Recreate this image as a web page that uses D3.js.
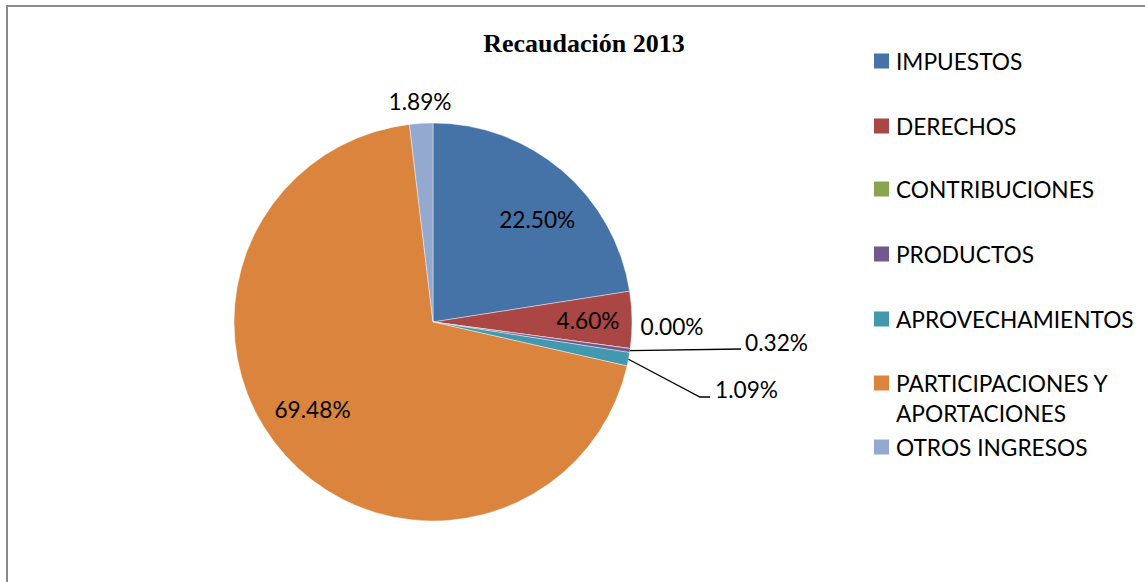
<!DOCTYPE html>
<html>
<head>
<meta charset="utf-8">
<script src="https://cdn.jsdelivr.net/npm/d3@7"></script>
<style>
  html, body { margin: 0; padding: 0; background: #fff; }
  svg { display: block; }
  text { font-family: Lato, "Open Sans", sans-serif; fill: #000; }
</style>
</head>
<body>
<div id="chart"></div>
<script>
'use strict';

// data
var categories = ['IMPUESTOS', 'DERECHOS', 'CONTRIBUCIONES', 'PRODUCTOS',
  'APROVECHAMIENTOS', 'PARTICIPACIONES Y APORTACIONES', 'OTROS INGRESOS'];
var values = [22.50, 4.60, 0.00, 0.32, 1.09, 69.48, 1.89];
var labels = ['22.50%', '4.60%', '0.00%', '0.32%', '1.09%', '69.48%', '1.89%'];
var legendLines = [['IMPUESTOS'], ['DERECHOS'], ['CONTRIBUCIONES'], ['PRODUCTOS'],
  ['APROVECHAMIENTOS'], ['PARTICIPACIONES Y', 'APORTACIONES'], ['OTROS INGRESOS']];
var colors = ['#4572A7', '#AA4643', '#89A54E', '#71588F', '#4198AF', '#DB843D', '#93A9CF'];

var width = 1145, height = 582;
var cx = 433, cy = 322, radius = 199;
var fontSize = '22.7px';

var svg = d3.select('#chart').append('svg')
  .attr('width', width)
  .attr('height', height);

// chart area outline (only top + left are inside the picture)
svg.append('path')
  .attr('d', 'M7,' + height + ' L7,6 L' + width + ',6')
  .attr('fill', 'none')
  .attr('stroke', '#8a8a8a')
  .attr('stroke-width', 2);

svg.append('text')
  .attr('x', 584)
  .attr('y', 52)
  .attr('text-anchor', 'middle')
  .style('font-family', '"Liberation Serif", "Times New Roman", serif')
  .style('font-weight', 'bold')
  .style('font-size', '26px')
  .text('Recaudación 2013');

var color = d3.scaleOrdinal().domain(categories).range(colors);

var pie = d3.pie().sort(null).value(function(d) { return d.value; });
var data = categories.map(function(c, i) { return { name: c, value: values[i], label: labels[i] }; });
var arcs = pie(data);

var arc = d3.arc().innerRadius(0).outerRadius(radius);

var g = svg.append('g').attr('transform', 'translate(' + cx + ',' + cy + ')');

g.selectAll('path.slice')
  .data(arcs)
  .enter().append('path')
  .attr('class', 'slice')
  .attr('d', arc)
  .attr('fill', function(d) { return color(d.data.name); })
  .attr('stroke', '#ffffff')
  .attr('stroke-opacity', 0.6)
  .attr('stroke-width', 0.7);

function midAngle(d) { return (d.startAngle + d.endAngle) / 2; }
function polar(a, r) { return [Math.sin(a) * r, -Math.cos(a) * r]; }

// inside labels: radius + angle nudge (degrees)
var inside = { 0: [146, 5], 1: [155, 0], 5: [149, 6] };
// leader line ends, relative to the centre
var leaders = { 3: [[308, 27]], 4: [[267, 75], [277, 75]] };

arcs.forEach(function(d, i) {
  var a = midAngle(d);
  var p, anchor = 'middle';
  if (leaders[i]) {
    var pts = [polar(a, radius)].concat(leaders[i]);
    g.append('path')
      .attr('d', d3.line()(pts))
      .attr('fill', 'none')
      .attr('stroke', '#000')
      .attr('stroke-width', 1.3);
    var end = pts[pts.length - 1];
    p = i === 3 ? [end[0] + 4, end[1] - 7] : [end[0] + 5, end[1] - 8];
    anchor = 'start';
  } else if (inside[i]) {
    p = polar(a + inside[i][1] * Math.PI / 180, inside[i][0]);
  } else if (i === 2) {
    p = [239, 4];
  } else {
    p = [-13, -221];
  }
  g.append('text')
    .attr('x', p[0])
    .attr('y', p[1])
    .attr('text-anchor', anchor)
    .attr('dominant-baseline', 'central')
    .style('font-size', fontSize)
    .text(d.data.label);
});

// legend
var legend = svg.append('g').attr('transform', 'translate(874,0)');
var rowY = [61, 126, 189, 254, 319, 383, 447];

legendLines.forEach(function(lines, i) {
  var row = legend.append('g').attr('transform', 'translate(0,' + rowY[i] + ')');
  row.append('rect')
    .attr('x', 0)
    .attr('y', -7.5)
    .attr('width', 15)
    .attr('height', 15)
    .attr('fill', colors[i]);
  lines.forEach(function(t, j) {
    row.append('text')
      .attr('x', 22)
      .attr('y', j * 30)
      .attr('dominant-baseline', 'central')
      .style('font-size', fontSize)
      .text(t);
  });
});
</script>
</body>
</html>
